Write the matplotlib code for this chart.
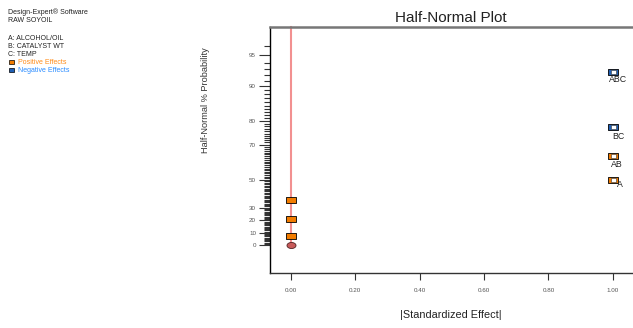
import numpy as np
import matplotlib
matplotlib.use('Agg')
import matplotlib.pyplot as plt
from matplotlib.path import Path
from statistics import NormalDist

plt.rcParams['font.family'] = ['Liberation Sans', 'DejaVu Sans']

# effects
terms = ['C', 'AC', 'B', 'A', 'AB', 'BC', 'ABC']
effects = [0.0, 0.0, 0.0, 1.0, 1.0, 1.0, 1.0]
positive = [True, True, True, True, True, False, False]
show_label = [False, False, False, True, True, True, True]
probability = [7.1, 21.4, 35.7, 50.0, 64.3, 77.5, 92.6]   # half-normal % probability

y_major = [0, 10, 20, 30, 50, 70, 80, 90, 95]
x_ticks = [0.0, 0.2, 0.4, 0.6, 0.8, 1.0]

nd = NormalDist()
def hn(p):
    return np.array([nd.inv_cdf(0.5 + v / 200.0) if v > 0 else 0.0 for v in p])

orange = '#f27c00'
blue = '#1f5fb4'

rect = Path([(-1.5, -1), (1.5, -1), (1.5, 1), (-1.5, 1), (-1.5, -1)],
            [Path.MOVETO, Path.LINETO, Path.LINETO, Path.LINETO, Path.CLOSEPOLY])
t = np.linspace(0, 2 * np.pi, 60)
ell = Path(np.column_stack([1.5 * np.cos(t), np.sin(t)]))

fig = plt.figure(figsize=(6.33, 3.28), dpi=100)
ax = fig.add_axes([270 / 633, 55 / 328, 375 / 633, 246 / 328])
ax.set_xlim(-0.065, 1.10)
ax.set_ylim(-0.289, 2.25)

# fit line through origin
ax.plot([0, 0], [0, 2.25], color='#f29090', lw=1.5, zorder=1, clip_on=False)
ax.plot([0], [0], marker=ell, ms=6.5, mfc='#c85a5a', mec='#502020', mew=0.6, ls='none', zorder=3)

z = hn(probability)
for term, e, zz, pos, lab in zip(terms, effects, z, positive, show_label):
    col = orange if pos else blue
    ax.plot([e], [zz], marker=rect, ms=6.5, mfc=col, mec='black', mew=0.6, ls='none', zorder=3, clip_on=False)
    if lab:
        ax.plot([e], [zz], marker=rect, ms=3.6, mfc='white', mec='#333333', mew=0.4, ls='none', zorder=4, clip_on=False)

offsets = {'A': (4, -5), 'AB': (-2, -9), 'BC': (-1, -9), 'ABC': (-4, -8)}
for term, e, zz, lab in zip(terms, effects, z, show_label):
    if lab:
        dx, dy = offsets[term]
        ax.annotate(term, (e, zz), xytext=(dx, dy), textcoords='offset pixels',
                    fontsize=6.3, ha='left', va='center', color='#222222')

ax.set_yticks(hn(y_major))
ax.set_yticklabels([str(v) for v in y_major])
minor = [p for p in range(1, 97) if p not in y_major]
ax.set_yticks(hn(minor), minor=True)
ax.set_xticks(x_ticks)
ax.set_xticklabels(['%.2f' % v for v in x_ticks])

ax.tick_params(axis='y', which='major', length=8, width=0.8, pad=2, labelsize=4.5, labelcolor='#555555', color='#333333')
ax.tick_params(axis='y', which='minor', length=4, width=0.8, color='#333333')
ax.tick_params(axis='x', length=5, width=0.8, pad=6, labelsize=4.5, labelcolor='#555555', color='#333333')

ax.spines['right'].set_visible(False)
ax.spines['top'].set_color('#777777')
ax.spines['top'].set_linewidth(1.8)
ax.spines['left'].set_color('black')
ax.spines['left'].set_linewidth(1.0)
ax.spines['bottom'].set_color('#333333')
ax.spines['bottom'].set_linewidth(1.0)

fig.text(451 / 633, 1 - 18 / 328, 'Half-Normal Plot', ha='center', va='center', fontsize=11, color='#222222')
fig.text(451 / 633, 1 - 315 / 328, '|Standardized Effect|', ha='center', va='center', fontsize=7.8, color='#222222')
fig.text(206 / 633, 1 - 100 / 328, 'Half-Normal % Probability', ha='center', va='center', rotation=90, fontsize=6.6, color='#333333')

# info block
info = [('Design-Expert® Software', 12, '#222222'), ('RAW SOYOIL', 20, '#222222'),
        ('A: ALCOHOL/OIL', 38, '#222222'), ('B: CATALYST WT', 46, '#222222'), ('C: TEMP', 54, '#222222'),
        ('Positive Effects', 62, '#ff8c1a'), ('Negative Effects', 70, '#2b8cff')]
for txt, yy, c in info:
    x0 = 18 if 'Effects' in txt else 8
    fig.text(x0 / 633, 1 - yy / 328, txt, ha='left', va='center', fontsize=5, color=c)
for yy, c in [(62, orange), (70, blue)]:
    fig.patches.append(plt.Rectangle((9 / 633, 1 - (yy + 2) / 328), 5 / 633, 4 / 328,
                                     transform=fig.transFigure, facecolor=c, edgecolor='black', lw=0.5))

fig.savefig('out.png', dpi=100)
